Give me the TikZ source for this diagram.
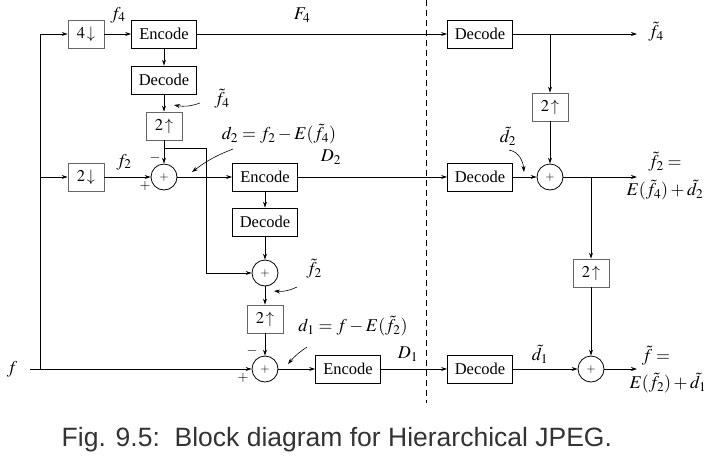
\documentclass[tikz,border=0pt]{standalone}
\usepackage{mathptmx}
\usepackage[no-math]{fontspec}
\setmainfont{Liberation Serif}
\newfontfamily\capfont{Liberation Sans}
\usetikzlibrary{arrows.meta}

\begin{document}
\begin{tikzpicture}[x=1pt,y=-1pt,line width=0.8pt,
  arr/.style={-{Stealth[length=6pt,width=4pt]}},
  codebox/.style={draw, minimum width=65pt, minimum height=28pt, inner sep=0pt, font=\fontsize{16.5}{18}\selectfont},
  ratebox/.style={draw=black!60, minimum width=36pt, minimum height=28pt, inner sep=0pt, font=\fontsize{16.5}{18}\selectfont},
  sumnode/.style={draw, circle, minimum size=26pt, inner sep=0pt, font=\fontsize{12}{14}\selectfont},
  lbl/.style={font=\fontsize{18}{20}\selectfont, inner sep=0pt},
  sgn/.style={font=\fontsize{14}{15}\selectfont, inner sep=0pt}]
\useasboundingbox (0,0) rectangle (720,475);
% coder side
\node[ratebox] (dn4) at (86,34) {$4\,{\downarrow}$};
\node[codebox] (enc4) at (164,34) {Encode};
\node[codebox] (dec4) at (164,80) {Decode};
\node[ratebox] (up4) at (164,126) {$2\,{\uparrow}$};
\node[ratebox] (dn2) at (86,177) {$2\,{\downarrow}$};
\node[sumnode] (sum2) at (164,177) {$+$};
\node[codebox] (enc2) at (265,177) {Encode};
\node[codebox] (dec2) at (265,222) {Decode};
\node[sumnode] (sumf2) at (265,273) {$+$};
\node[ratebox] (up2) at (265,319) {$2\,{\uparrow}$};
\node[sumnode] (sum1) at (265,369) {$+$};
\node[codebox] (enc1) at (348,369) {Encode};
% decoder side
\node[codebox] (rdec4) at (480,34) {Decode};
\node[ratebox] (rup4) at (550,107) {$2\,{\uparrow}$};
\node[codebox] (rdec2) at (480,177) {Decode};
\node[sumnode] (rsum2) at (550,177) {$+$};
\node[ratebox] (rup2) at (591,273) {$2\,{\uparrow}$};
\node[codebox] (rdec1) at (480,369) {Decode};
\node[sumnode] (rsum1) at (591,369) {$+$};
% points
\coordinate (fin) at (30,369);
\coordinate (rail) at (40,369);
\coordinate (tap4) at (164,148);
\coordinate (tapr) at (206,148);
\coordinate (rtap4) at (550,34);
\coordinate (rtap2) at (591,177);
\coordinate (out4) at (637,34);
\coordinate (out2) at (637,177);
\coordinate (out1) at (637,369);
\coordinate (cuttop) at (426,0);
\coordinate (cutbot) at (426,403);
% labels
\node[lbl] (lf) at (12,369) {$f$};
\node[lbl] (lf4) at (118,15) {$f_4$};
\node[lbl] (lF4) at (302,15) {$F_4$};
\node[lbl] (lf2) at (124,162) {$f_2$};
\node[lbl] (lD2) at (331,157) {$D_2$};
\node[lbl] (lD1) at (408,354) {$D_1$};
\node[lbl] (ltf4) at (222,99) {$\tilde f_4$};
\node[lbl] (ld2eq) at (279,134) {$d_2 = f_2 - E(\tilde f_4)$};
\node[lbl] (ltf2) at (314,269) {$\tilde f_2$};
\node[lbl] (ld1eq) at (353,326) {$d_1 = f - E(\tilde f_2)$};
\node[lbl] (lo4) at (656,32) {$\tilde f_4$};
\node[lbl] (ltd2) at (508,136) {$\tilde d_2$};
\node[lbl] (lo2a) at (665,162) {$\tilde f_2 =$};
\node[lbl] (lo2b) at (665,190) {$E(\tilde f_4) + \tilde d_2$};
\node[lbl] (ltd1) at (540,354) {$\tilde d_1$};
\node[lbl] (lo1a) at (656,356) {$\tilde f =$};
\node[lbl] (lo1b) at (668,383) {$E(\tilde f_2) + \tilde d_1$};
\node[sgn] (m2) at (155,158) {$-$};
\node[sgn] (p2) at (145,186) {$+$};
\node[sgn] (m1) at (252,351) {$-$};
\node[sgn] (p1) at (243,378) {$+$};
% connectors, coder
\draw[arr] (fin) -- (sum1.west);
\draw[arr] (rail) |- (dn4.west);
\draw[arr] (rail |- dn2) -- (dn2.west);
\draw[arr] (dn4) -- (enc4);
\draw[arr] (enc4) -- (dec4);
\draw[arr] (dec4) -- (up4);
\draw[arr] (up4) -- (sum2);
\draw[arr] (tap4) -- (tapr) |- (sumf2.west);
\draw[arr] (dn2) -- (sum2);
\draw[arr] (sum2) -- (enc2);
\draw[arr] (enc2) -- (dec2);
\draw[arr] (dec2) -- (sumf2);
\draw[arr] (sumf2) -- (up2);
\draw[arr] (up2) -- (sum1);
\draw[arr] (sum1) -- (enc1);
% channel
\draw[arr] (enc4) -- (rdec4);
\draw[arr] (enc2) -- (rdec2);
\draw[arr] (enc1) -- (rdec1);
\draw[dash pattern=on 6pt off 4pt] (cuttop) -- (cutbot);
% connectors, decoder
\draw[arr] (rdec4) -- (out4);
\draw[arr] (rtap4) -- (rup4);
\draw[arr] (rup4) -- (rsum2);
\draw[arr] (rdec2) -- (rsum2);
\draw[arr] (rsum2) -- (out2);
\draw[arr] (rtap2) -- (rup2);
\draw[arr] (rup2) -- (rsum1);
\draw[arr] (rdec1) -- (rsum1);
\draw[arr] (rsum1) -- (out1);
% pointers
\coordinate (pf4a) at (200,103);
\coordinate (pf4b) at (174,105);
\coordinate (pd2a) at (233,149);
\coordinate (pd2b) at (192,172);
\coordinate (pf2a) at (297,287);
\coordinate (pf2b) at (274,291);
\coordinate (pd1a) at (307,347);
\coordinate (pd1b) at (288,364);
\coordinate (ptd2a) at (509,150);
\coordinate (ptd2b) at (524,172);
\draw[arr,line width=0.6pt] (pf4a) to[bend left=15] (pf4b);
\draw[arr,line width=0.6pt] (pd2a) to[bend right=8] (pd2b);
\draw[arr,line width=0.6pt] (pf2a) to[bend left=15] (pf2b);
\draw[arr,line width=0.6pt] (pd1a) to[bend right=8] (pd1b);
\draw[arr,line width=0.6pt] (ptd2a) to[out=-10,in=95] (ptd2b);
% caption
\node[font=\capfont\fontsize{26.5}{30}\selectfont, text=black!80, anchor=west] (cap) at (58,440) {Fig. 9.5:\ \ Block diagram for Hierarchical JPEG.};
\end{tikzpicture}
\end{document}
